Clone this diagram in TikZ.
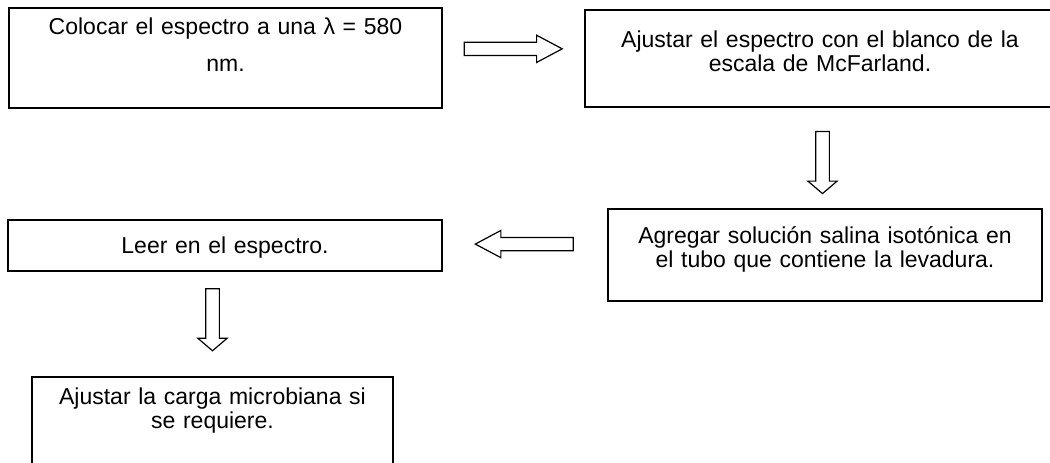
\documentclass[tikz,border=0pt]{standalone}
\usepackage{fontspec}
\setmainfont{Liberation Sans}
\usetikzlibrary{shapes.arrows,positioning}
\tikzstyle{stage} = [rectangle, draw=black, line width=2pt, outer sep=0pt, align=center, inner xsep=6pt, font=\fontsize{23}{24}\selectfont]
\tikzstyle{fat} = [single arrow, draw=black, line width=1.2pt, fill=white, outer sep=0pt, inner xsep=0pt, single arrow head indent=0pt]
\tikzstyle{sidearrow} = [fat, inner ysep=6pt, minimum height=98pt, single arrow head extend=7pt, single arrow tip angle=56]
\tikzstyle{downarrow} = [fat, rotate=270, inner ysep=6.25pt, minimum height=62pt, single arrow head extend=7.75pt, single arrow tip angle=99]

\begin{document}
\begin{tikzpicture}
\useasboundingbox (0,0) rectangle (1050pt,-463pt);

\node (colocar) [stage, anchor=north west, text width=421pt, inner ysep=10pt, text depth=63pt] at (9pt,-8pt) {Colocar el espectro a una λ = 580\\[13pt]nm.};
\node (ajustar) [stage, right=143pt of colocar.north east, anchor=north west, yshift=-2pt, text width=458pt, inner ysep=21pt, text depth=38pt] {Ajustar el espectro con el blanco de la\\escala de McFarland.};
\node (agregar) [stage, below=102pt of ajustar, xshift=5pt, text width=422pt, inner ysep=18pt, text depth=39pt] {Agregar solución salina isotónica en\\el tubo que contiene la levadura.};
\node (leer) [stage, left=166pt of agregar.north west, anchor=north east, yshift=-11pt, text width=422pt, inner ysep=17.5pt, text depth=0pt] {Leer en el espectro.};
\node (carga) [stage, below=106pt of leer, xshift=-12.5pt, text width=349pt, inner ysep=10.5pt, text depth=64pt] {Ajustar la carga microbiana si\\se requiere.};
%
\path (colocar.east) -- node[xshift=-6.5pt, yshift=9.25pt, sidearrow] (a1) {} (ajustar.west);
\path (ajustar.south) -- node[yshift=-2pt, downarrow] (a2) {} (agregar.north);
\path (agregar.west) -- node[xshift=5.5pt, yshift=6pt, sidearrow, rotate=180] (a3) {} (leer.east);
\path (leer.south) -- node[xshift=-6.25pt, yshift=7.5pt, downarrow] (a4) {} (carga.north);
\end{tikzpicture}
\end{document}
